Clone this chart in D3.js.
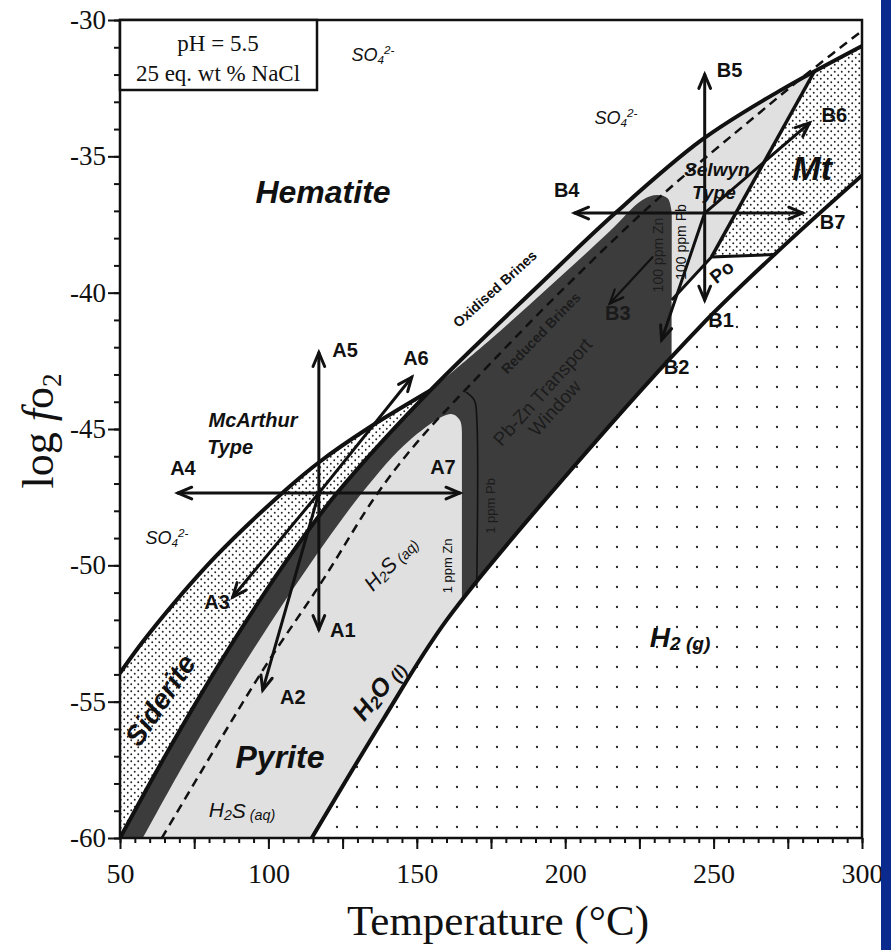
<!DOCTYPE html>
<html>
<head>
<meta charset="utf-8">
<script src="https://cdn.jsdelivr.net/npm/d3@7"></script>
<style>
  body { margin: 0; background: #fff; }
  text { fill: #111; }
  .sans { font-family: "Liberation Sans", Arial, sans-serif; }
  .serif { font-family: "Liberation Serif", "Times New Roman", serif; }
</style>
</head>
<body>
<svg width="891" height="950"></svg>
<script>
// field boundaries, as [T (°C), log fO2]
const hematiteBoundary = [[50,-60.0],[63.5,-57.32],[76.95,-54.79],[90.4,-52.41],[105.6,-49.91],[123.1,-47.35],[154.4,-43.6],[191.4,-39.7],[216.7,-37.1],[246.0,-34.4],[272.2,-32.6],[300,-30.95]];
const sideriteBoundary = [[50,-53.95],[59.1,-52.6],[82.0,-49.7],[106.2,-47.2],[117.3,-46.2],[133.2,-45.0],[154.4,-43.6]];
const waterBoundary = [[114.6,-60],[138.55,-55.67],[160.1,-52.0],[202.5,-46.43],[245.3,-41.26],[272.2,-38.43],[300,-35.7]];
const brineBoundary = [[64.1,-60],[97.8,-53.9],[118.0,-50.6],[136.5,-47.4],[150.0,-45.5],[167.8,-43.4],[198.1,-40.0],[231.8,-36.5],[265.5,-33.4],[282.3,-31.9],[300,-30.4]];

// Pb-Zn transport window
const windowTop = [[154.4,-43.6],[175,-41.7],[195,-39.75],[215,-37.75],[226,-36.6],[231,-36.42],[234.6,-36.55],[235.9,-37.1]];
const windowLower = [[57.7,-60],[70.2,-57.54],[83.7,-55.05],[97.2,-52.7],[110.6,-50.5],[131.5,-47.35],[147.7,-45.4],[161.5,-44.45],[164.6,-44.7],[165.2,-45.3]];
const zn100 = [[235.9,-37.1],[235.9,-42.4]];
const windowWater = [[235.9,-42.4],[202.5,-46.43],[165.2,-51.3]];
const zn1 = [[165.2,-51.3],[165.2,-45.3]];
const pb1 = [[166.6,-43.65],[169.4,-43.95],[170.2,-44.6],[170.2,-50.75]];

// magnetite / pyrrhotite
const magnetiteField = [[284,-31.88],[300,-30.95],[300,-35.7],[272.2,-38.43],[270.5,-38.6],[249.3,-38.69]];
const pyrrhotiteField = [[249.3,-38.69],[270.5,-38.6],[245.3,-41.26],[235.9,-42.4],[235.9,-40.27]];
const mtBoundary = [[284,-31.88],[249.3,-38.69]];
const poBoundary = [[270.5,-38.6],[249.3,-38.69],[235.9,-40.27]];

// fluid pathways
const mcArthurFrom = [117,-47.35];
const mcArthurTo = [[117,-52.35],[98.1,-54.57],[88.0,-51.16],[69.5,-47.35],[117,-42.2],[148.3,-43.1],[164.5,-47.35]];
const mcArthurNames = ["A1","A2","A3","A4","A5","A6","A7"];
const mcArthurLabelAt = [[125.1,-52.37],[108.2,-54.83],[82.7,-51.34],[71.2,-46.43],[125.8,-42.1],[149.7,-42.4],[158.8,-46.4]];
const selwynFrom = [247.0,-37.08];
const selwynTo = [[247.0,-40.27],[232.5,-41.73],[203.2,-37.08],[247.0,-32.0],[282.3,-33.78],[280.0,-37.08]];
const selwynNames = ["B1","B2","B4","B5","B6","B7"];
const selwynLabelAt = [[252.5,-41.0],[237.5,-42.72],[200.5,-36.23],[255.4,-31.83],[290.7,-33.48],[290.1,-37.41]];
const b3Arrow = [[229.4,-38.7],[215.0,-40.4]];
const b3LabelAt = [217.7,-40.74];

// tick values
const xMajor = [50,100,150,200,250,300];
const xMid = d3.range(75,300,50);
const xMinor = d3.range(50,301,5);
const yMajor = [-30,-35,-40,-45,-50,-55,-60];
const yMinor = d3.range(-60,-29,1);

const svg = d3.select("svg");
const x = d3.scaleLinear().domain([50,300]).range([120,862]);
const y = d3.scaleLinear().domain([-60,-30]).range([838,20]);

const curved = d3.line().x(d => x(d[0])).y(d => y(d[1])).curve(d3.curveCatmullRom.alpha(0.5));
const straight = d3.line().x(d => x(d[0])).y(d => y(d[1]));
// glue several open paths into one closed outline
function joinPath(parts) {
  return parts.map((p, i) => i ? p.replace(/^M/, "L") : p).join("") + "Z";
}
const rev = a => a.slice().reverse();

const defs = svg.append("defs");
defs.append("clipPath").attr("id", "plot")
  .append("rect").attr("x", x(50)).attr("y", y(-30))
  .attr("width", x(300) - x(50)).attr("height", y(-60) - y(-30));

const dense = defs.append("pattern").attr("id", "dense")
  .attr("patternUnits", "userSpaceOnUse").attr("width", 7).attr("height", 7);
dense.append("rect").attr("width", 7).attr("height", 7).attr("fill", "#fff");
dense.append("circle").attr("cx", 1.75).attr("cy", 1.75).attr("r", 0.95).attr("fill", "#222");
dense.append("circle").attr("cx", 5.25).attr("cy", 5.25).attr("r", 0.95).attr("fill", "#222");

const sparse = defs.append("pattern").attr("id", "sparse")
  .attr("patternUnits", "userSpaceOnUse").attr("x", 7).attr("y", -3)
  .attr("width", 20).attr("height", 20);
sparse.append("rect").attr("width", 20).attr("height", 20).attr("fill", "#fff");
sparse.append("circle").attr("cx", 10).attr("cy", 10).attr("r", 1.15).attr("fill", "#222");

const plot = svg.append("g").attr("clip-path", "url(#plot)");

// H2(g) field
plot.append("path")
  .attr("d", joinPath([curved(waterBoundary), straight([[300,-35.7],[300,-60]])]))
  .attr("fill", "url(#sparse)");

// pyrite (light grey) between hematite and water boundaries
plot.append("path")
  .attr("d", joinPath([curved(hematiteBoundary), curved(rev(waterBoundary))]))
  .attr("fill", "#e0e0e0");

const hemLow = hematiteBoundary.filter(d => d[0] <= 154.4);

// siderite
plot.append("path")
  .attr("d", joinPath([curved(sideriteBoundary), curved(rev(hemLow))]))
  .attr("fill", "url(#dense)");

// Pb-Zn transport window
plot.append("path")
  .attr("d", joinPath([curved(hemLow), curved(windowTop), straight(zn100),
    curved(windowWater), straight(zn1), curved(rev(windowLower))]))
  .attr("fill", "#3c3c3c");

// magnetite and pyrrhotite
plot.append("path").attr("d", straight(magnetiteField) + "Z").attr("fill", "url(#dense)");
plot.append("path").attr("d", straight(pyrrhotiteField) + "Z").attr("fill", "#fff");

// boundary lines
function stroke(d, w, dash) {
  plot.append("path").attr("d", d).attr("fill", "none")
    .attr("stroke", "#111").attr("stroke-width", w)
    .attr("stroke-dasharray", dash || null);
}
stroke(curved(brineBoundary), 2.5, "9,6");
stroke(curved(pb1), 1.6);
stroke(curved(hematiteBoundary), 4);
stroke(curved(sideriteBoundary), 4);
stroke(curved(waterBoundary), 4);
stroke(straight(mtBoundary), 3.5);
stroke(straight(poBoundary), 3);

// arrows with open heads
function arrow(from, to, w) {
  const x1 = x(from[0]), y1 = y(from[1]), x2 = x(to[0]), y2 = y(to[1]);
  const a = Math.atan2(y2 - y1, x2 - x1), len = 15, spread = 0.4;
  const g = plot.append("g").attr("stroke", "#111").attr("fill", "none")
    .attr("stroke-width", w).attr("stroke-linecap", "round");
  g.append("line").attr("x1", x1).attr("y1", y1).attr("x2", x2).attr("y2", y2);
  g.append("path").attr("d",
    `M${x2 + len * Math.cos(a + Math.PI - spread)},${y2 + len * Math.sin(a + Math.PI - spread)}` +
    `L${x2},${y2}` +
    `L${x2 + len * Math.cos(a + Math.PI + spread)},${y2 + len * Math.sin(a + Math.PI + spread)}`);
}
mcArthurTo.forEach(t => arrow(mcArthurFrom, t, 3));
selwynTo.forEach(t => arrow(selwynFrom, t, 3));
arrow(b3Arrow[0], b3Arrow[1], 2.2);

// text helper
function label(html, at, o) {
  const px = x(at[0]), py = y(at[1]);
  svg.append("text")
    .attr("class", o.serif ? "serif" : "sans")
    .attr("transform", `translate(${px},${py}) rotate(${o.rot || 0})`)
    .attr("text-anchor", o.anchor || "middle")
    .attr("dominant-baseline", "central")
    .attr("font-size", o.size)
    .attr("font-weight", o.bold ? "bold" : "normal")
    .attr("font-style", o.italic ? "italic" : "normal")
    .style("fill", o.color || "#111")
    .html(html);
}

mcArthurNames.forEach((n, i) => label(n, mcArthurLabelAt[i], {size: 20, bold: true}));
selwynNames.forEach((n, i) => label(n, selwynLabelAt[i], {size: 20, bold: true}));
label("B3", b3LabelAt, {size: 20, bold: true, color: "#1a1a1a"});

const sub = (s, k) => `<tspan dy="${k}" font-size="68%">${s}</tspan>`;
const so4 = 'SO<tspan dy="4" font-size="65%">4</tspan><tspan dy="-10" font-size="65%">2-</tspan>';

label("Hematite", [118.4,-36.31], {size: 32, bold: true, italic: true});
label("Pyrite", [103.9,-57.03], {size: 32, bold: true, italic: true});
label("Siderite", [63.6,-54.94], {size: 28, bold: true, italic: true, rot: -56});
label("McArthur", [94.8,-44.67], {size: 20, bold: true, italic: true});
label("Type", [87.1,-45.66], {size: 20, bold: true, italic: true});
label("Selwyn", [251.1,-35.5], {size: 19, bold: true, italic: true});
label("Type", [250.1,-36.31], {size: 19, bold: true, italic: true});
label("Mt", [283.2,-35.43], {size: 34, bold: true, italic: true});
label("Po", [252.8,-39.24], {size: 19, bold: true, rot: -38});
label("H" + sub("2", 6) + '<tspan dy="-6">O</tspan>' + sub(" (l)", 6), [136.9,-54.57], {size: 25, bold: true, italic: true, rot: -52});
label("H" + sub("2", 6) + sub(" (g)", 0), [238.7,-52.63], {size: 28, bold: true, italic: true});
label("H" + sub("2", 5) + '<tspan dy="-5">S</tspan>' + sub(" (aq)", 5), [141.0,-49.91], {size: 21, italic: true, rot: -47});
label("H" + sub("2", 5) + '<tspan dy="-5">S</tspan>' + sub(" (aq)", 5), [91.1,-58.97], {size: 21, italic: true});
label("1 ppm Zn", [160.2,-50.02], {size: 13, rot: -90});
label("1 ppm Pb", [174.7,-47.82], {size: 13, rot: -90, color: "#1c1c1c"});
label("100 ppm Pb", [239.0,-38.14], {size: 14, rot: -90});
label("100 ppm Zn", [231.3,-38.62], {size: 14, rot: -90, color: "#1c1c1c"});
label("Pb-Zn Transport", [192.4,-43.64], {size: 19, rot: -48, color: "#1c1c1c"});
label("Window", [196.5,-44.23], {size: 19, rot: -48, color: "#1c1c1c"});
label("Reduced Brines", [191.75,-41.48], {size: 14, bold: true, rot: -46, color: "#1c1c1c"});
label("Oxidised Brines", [176.3,-39.86], {size: 14, bold: true, rot: -42});
label(so4, [135.2,-31.28], {size: 18, italic: true});
label(so4, [217.1,-33.59], {size: 18, italic: true});
label(so4, [65.8,-49.0], {size: 18, italic: true});

// axes
const yAxis = svg.append("g").attr("transform", `translate(${x(50)},0)`)
  .attr("class", "serif")
  .call(d3.axisLeft(y).tickValues(yMajor).tickSize(12).tickPadding(2).tickFormat(d => String(d)));
svg.append("g").attr("transform", `translate(${x(50)},0)`)
  .call(d3.axisLeft(y).tickValues(yMinor).tickSize(6).tickFormat(""));
const xAxis = svg.append("g").attr("transform", `translate(0,${y(-60)})`)
  .attr("class", "serif")
  .call(d3.axisBottom(x).tickValues(xMajor).tickSize(11).tickPadding(14).tickFormat(d => String(d)));
svg.append("g").attr("transform", `translate(0,${y(-60)})`)
  .call(d3.axisBottom(x).tickValues(xMid).tickSize(11).tickFormat(""));
svg.append("g").attr("transform", `translate(0,${y(-60)})`)
  .call(d3.axisBottom(x).tickValues(xMinor).tickSize(5).tickFormat(""));
svg.selectAll(".domain").remove();
svg.selectAll(".tick line").attr("stroke", "#111").attr("stroke-width", 2);
yAxis.selectAll("text").attr("font-size", 27).attr("font-family", "Liberation Serif").style("fill", "#111");
xAxis.selectAll("text").attr("font-size", 28).attr("font-family", "Liberation Serif").style("fill", "#111");

// frame
svg.append("rect").attr("x", x(50)).attr("y", y(-30))
  .attr("width", x(300) - x(50)).attr("height", y(-60) - y(-30))
  .attr("fill", "none").attr("stroke", "#111").attr("stroke-width", 2.5);

// condition box
const box = svg.append("g").attr("transform", `translate(${x(50)},${y(-30)})`);
box.append("rect").attr("width", 197).attr("height", 70)
  .attr("fill", "#fff").attr("stroke", "#111").attr("stroke-width", 2.5);
box.append("text").attr("class", "serif").attr("x", 98).attr("y", 31)
  .attr("text-anchor", "middle").attr("font-size", 23).text("pH = 5.5");
box.append("text").attr("class", "serif").attr("x", 98).attr("y", 61)
  .attr("text-anchor", "middle").attr("font-size", 23).text("25 eq. wt % NaCl");

// axis titles
svg.append("text").attr("class", "serif")
  .attr("x", (x(50) + x(300)) / 2 + 7).attr("y", 935)
  .attr("text-anchor", "middle").attr("font-size", 43)
  .text("Temperature (°C)");
svg.append("text").attr("class", "serif")
  .attr("transform", `translate(53,${y(-45) + 2}) rotate(-90)`)
  .attr("text-anchor", "middle").attr("font-size", 44)
  .html('log <tspan font-style="italic">f</tspan>o<tspan dy="8" font-size="62%">2</tspan>');

// blue margin of the slide
svg.append("rect").attr("x", 881).attr("y", 0).attr("width", 10).attr("height", 950)
  .attr("fill", "#0a2a8e");
</script>
</body>
</html>
